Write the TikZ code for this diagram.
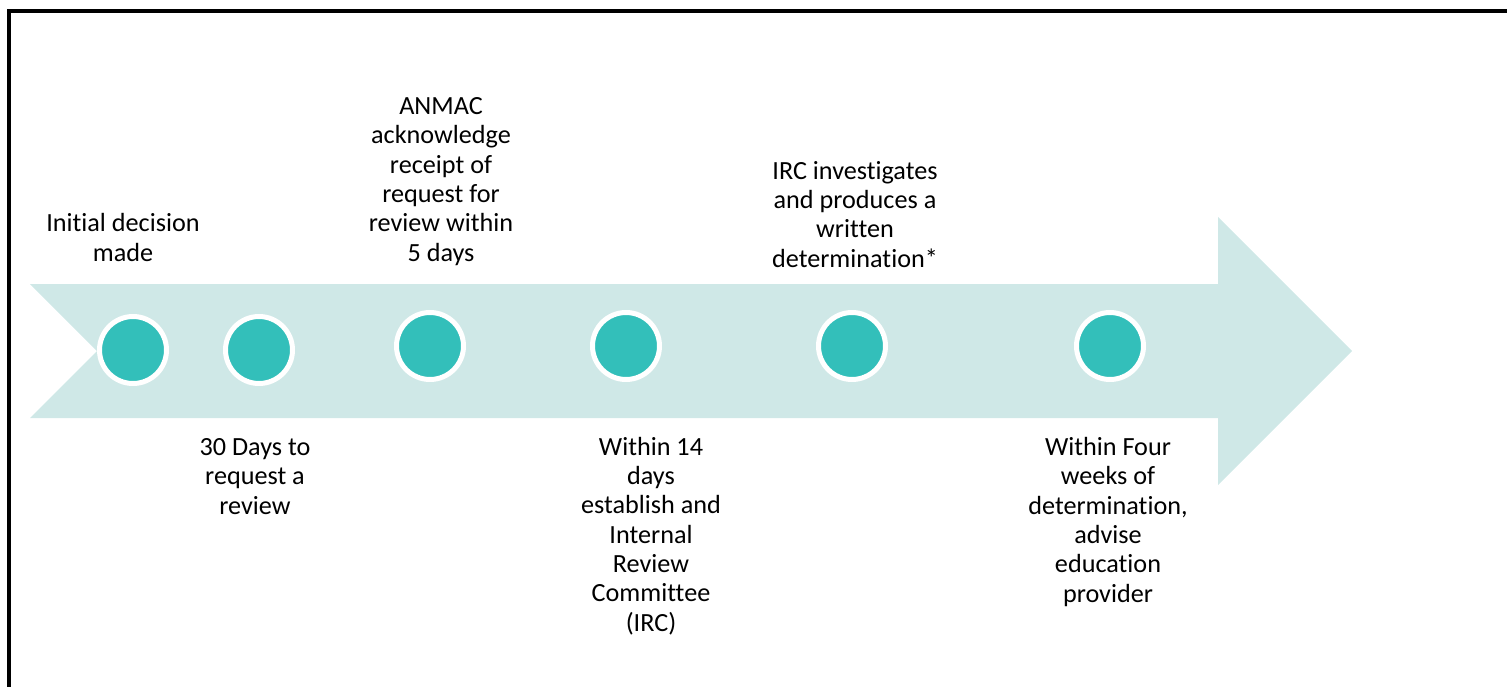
\documentclass[tikz,border=0pt]{standalone}
\usepackage{fontspec}
\setmainfont{Carlito}[Ligatures=NoCommon]
\definecolor{arrowfill}{RGB}{207,232,231}
\definecolor{dotfill}{RGB}{51,191,186}
\begin{document}
\begin{tikzpicture}[x=1pt,y=-1pt,
  dot/.style={circle,fill=dotfill,draw=white,line width=5pt,minimum size=67pt,inner sep=0pt},
  lbl/.style={align=center,inner sep=0pt,anchor=base,font=\fontsize{26.2}{29.3}\selectfont}]
\useasboundingbox (0,0) rectangle (1507,687);
% frame
\draw[line width=4pt] (9,687) -- (9,11) -- (1507,11);
% big arrow
\fill[arrowfill] (30,284) -- (1218,284) -- (1218,217) -- (1352,351) -- (1218,485)
  -- (1218,418) -- (30,418) -- (97,351) -- cycle;
% dots
\node[dot] (d1) at (133,350) {};
\node[dot] (d2) at (259,350) {};
\node[dot] (d3) at (430,346) {};
\node[dot] (d4) at (626,346) {};
\node[dot] (d5) at (852,346) {};
\node[dot] (d6) at (1110,346) {};
% labels (anchored at baseline of last line)
\node[lbl] (t1) at (123,261) {Initial decision\\made};
\node[lbl] (t2) at (255,514) {30 Days to\\request a\\review};
\node[lbl] (t3) at (441,261) {ANMAC\\acknowledge\\receipt of\\request for\\review within\\5 days};
\node[lbl] (t4) at (651,631) {Within 14\\days\\establish and\\Internal\\Review\\Committee\\(IRC)};
\node[lbl] (t5) at (855,267) {IRC investigates\\and produces a\\written\\determination*};
\node[lbl] (t6) at (1108,602) {Within Four\\weeks of\\determination,\\advise\\education\\provider};
\end{tikzpicture}
\end{document}
